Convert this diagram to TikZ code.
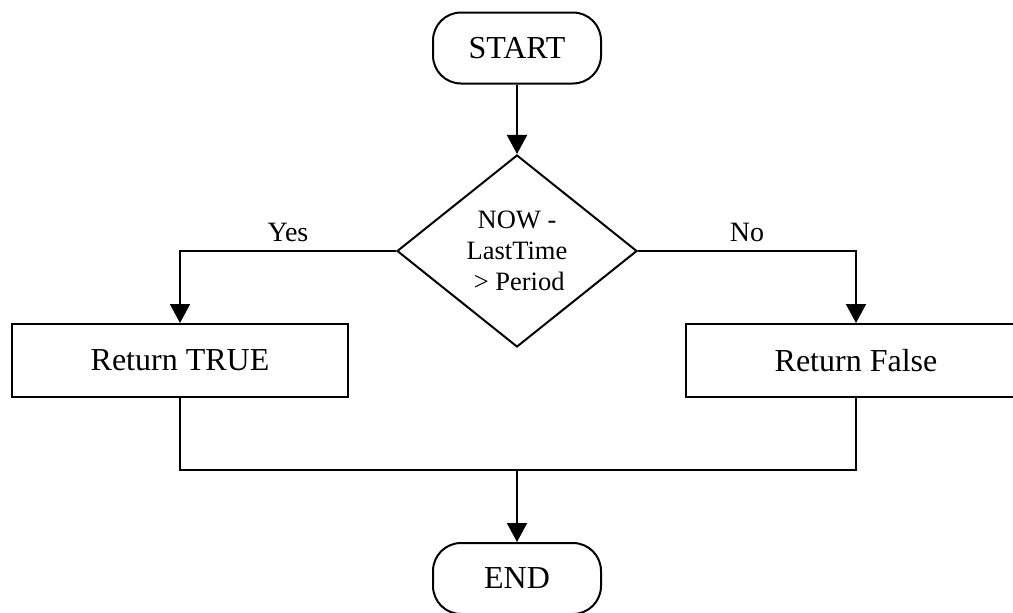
\documentclass[tikz,border=0pt]{standalone}
\usepackage{fontspec}
\setmainfont{Liberation Serif}
\usetikzlibrary{arrows.meta,shapes.geometric}
\begin{document}
\begin{tikzpicture}[x=1pt,y=-1pt,line width=2pt,
  term/.style={draw,rounded corners=28pt,minimum width=168pt,minimum height=71pt,
    inner sep=0pt,font=\fontsize{32}{36}\selectfont},
  procbox/.style={draw,minimum height=73pt,inner sep=0pt,
    font=\fontsize{32}{36}\selectfont},
  decision/.style={draw,diamond,aspect=1.25,minimum width=240pt,minimum height=192pt,
    inner sep=0pt,align=center,font=\fontsize{26.5}{31}\selectfont},
  branch/.style={font=\fontsize{28}{32}\selectfont,inner sep=8pt},
  flow/.style={-{Triangle[width=20pt,length=19pt]}}
]
\useasboundingbox (0,0) rectangle (1013,613);
\clip (0,0) rectangle (1013,613);

% terminals, test and the two outcomes
\node[term] (start) at (517,48) {START};
\node[decision] (test) at (517,251) {NOW -\\LastTime\\\,> Period};
\node[procbox,minimum width=336pt] (rtrue) at (180,360.5) {Return TRUE};
\node[procbox,minimum width=340pt] (rfalse) at (856,360.5) {Return False};
\node[term] (finish) at (517,578.5) {END};
\coordinate (merge) at (517,470);

% connectors
\draw[flow] (start) -- (test);
\draw[flow] (test.west) -| node[branch,pos=0.25,above] {Yes} (rtrue.north);
\draw[flow] (test.east) -| node[branch,pos=0.25,above] {No} (rfalse.north);
\draw (rtrue.south) |- (merge) -| (rfalse.south);
\draw[flow] (merge) -- (finish);
\end{tikzpicture}
\end{document}
